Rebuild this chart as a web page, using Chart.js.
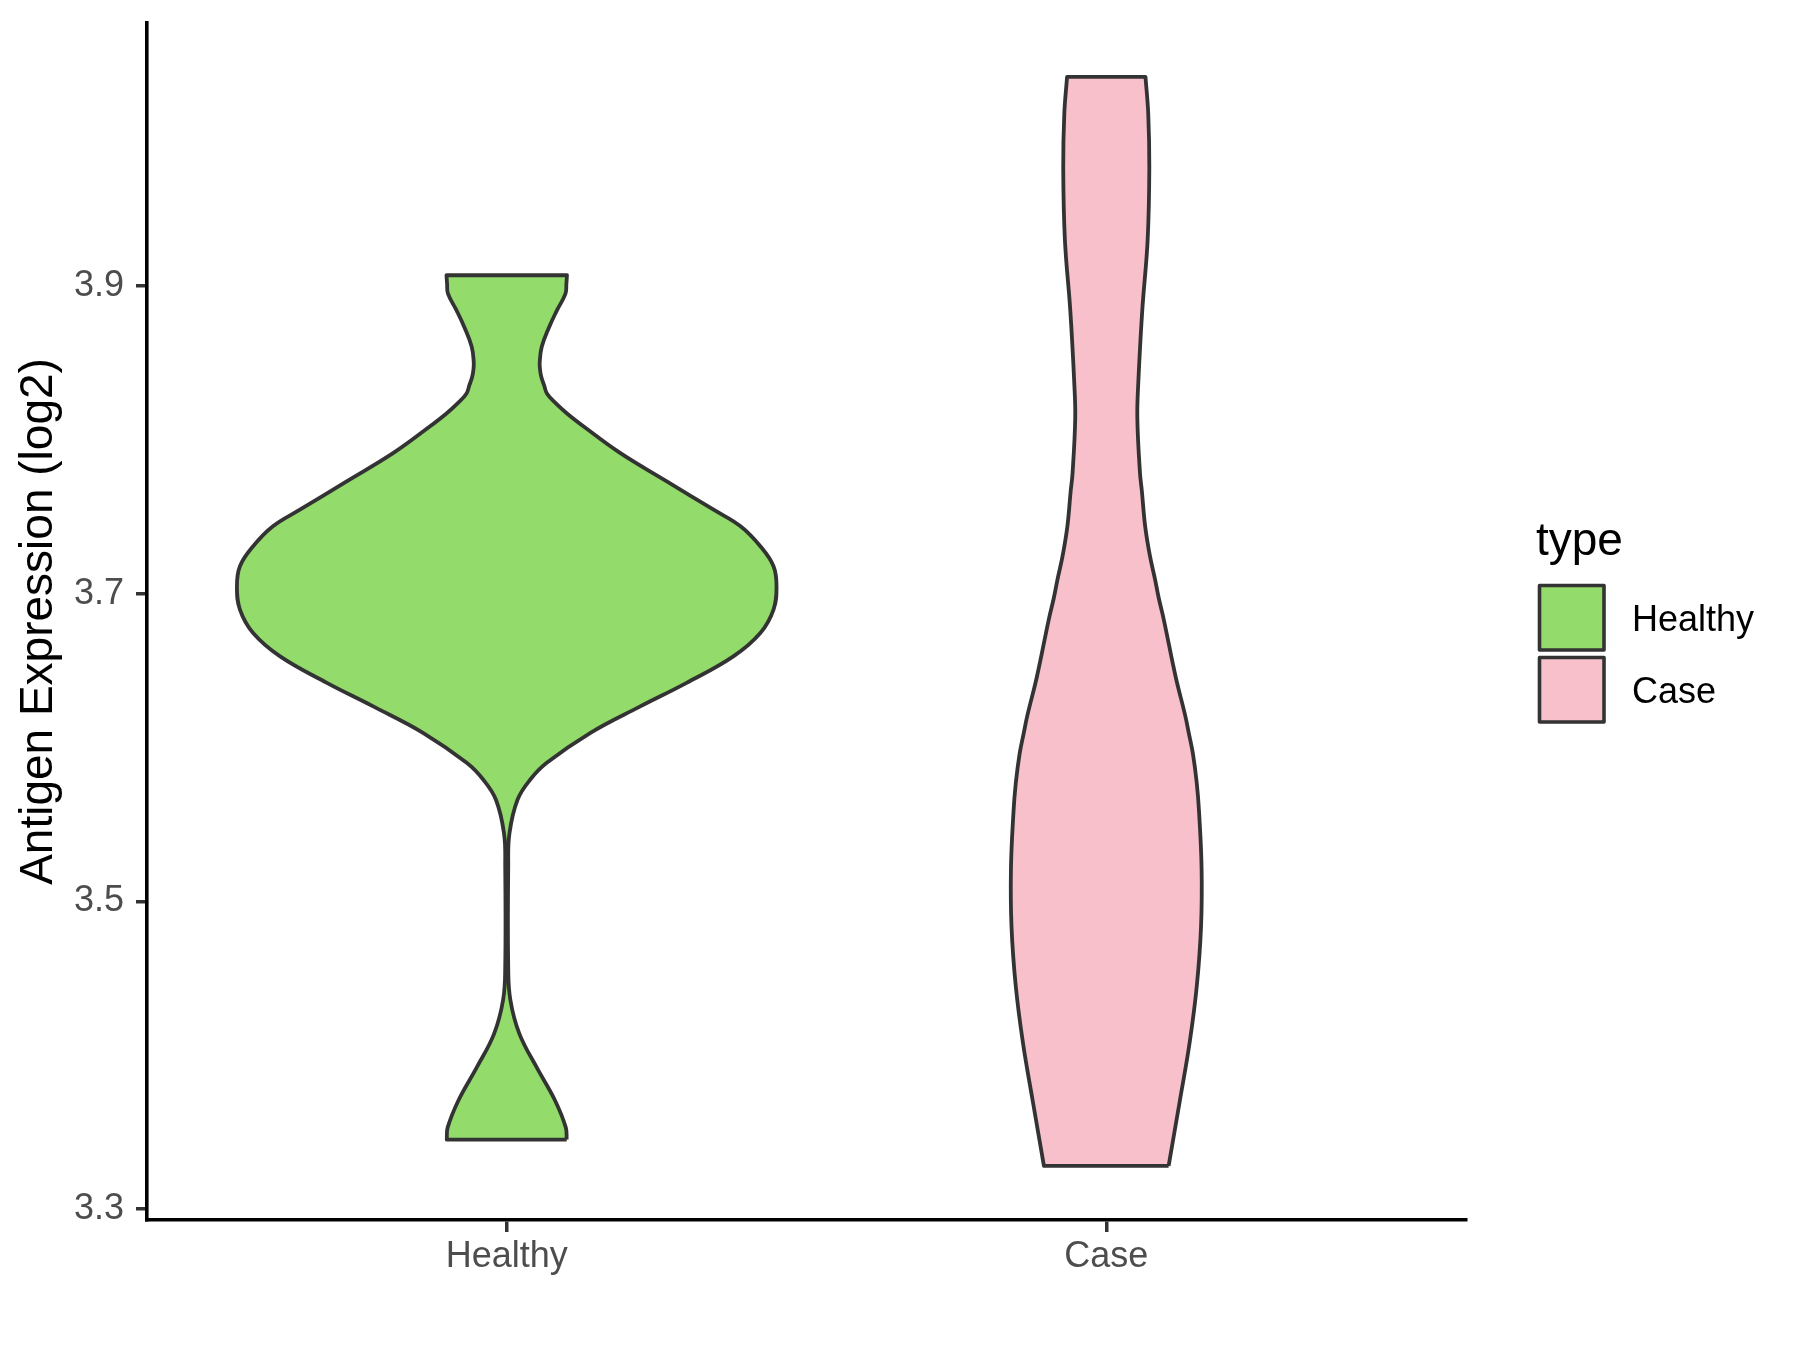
<!DOCTYPE html>
<html>
<head>
<meta charset="utf-8">
<script src="https://cdn.jsdelivr.net/npm/chart.js@4"></script>
<style>
  html, body { margin: 0; padding: 0; background: #fff; }
</style>
</head>
<body>
<canvas id="violin" width="1800" height="1350"></canvas>
<script>
// categories and colours
const categories = ['Healthy', 'Case'];
const fillColors = ['#93DB6B', '#F7C0CB'];
const legendTitle = 'type';

// y ticks and axis range (log2 expression)
const yTicks = [3.3, 3.5, 3.7, 3.9];
const yRange = [3.2928, 4.071];

// violin outlines: value, half width (x units)
const healthyY = [3.345, 3.353, 3.371, 3.392, 3.414, 3.436, 3.457, 3.522, 3.544, 3.566, 3.579, 3.590, 3.6094, 3.6267, 3.642, 3.6592, 3.6744, 3.6896, 3.7047, 3.7178, 3.7308, 3.7438, 3.7546, 3.773, 3.7915, 3.8085, 3.817, 3.8237, 3.830, 3.8355, 3.841, 3.8455, 3.8503, 3.8605, 3.8735, 3.884, 3.895, 3.9015, 3.907];
const healthyW = [0.100, 0.0985, 0.080, 0.050, 0.021, 0.006, 0.0025, 0.0025, 0.0045, 0.018, 0.039, 0.0668, 0.139, 0.2227, 0.300, 0.378, 0.423, 0.445, 0.450, 0.445, 0.423, 0.390, 0.345, 0.267, 0.189, 0.129, 0.101, 0.082, 0.0673, 0.0623, 0.0576, 0.0556, 0.055, 0.0584, 0.071, 0.0835, 0.098, 0.0995, 0.1005];

const caseY = [3.328, 3.371, 3.408, 3.445, 3.483, 3.521, 3.5585, 3.5773, 3.596, 3.6087, 3.621, 3.646, 3.683, 3.697, 3.709, 3.725, 3.744, 3.767, 3.778, 3.814, 3.837, 3.884, 3.930, 3.977, 4.012, 4.036];
const caseW = [0.104, 0.123, 0.139, 0.151, 0.158, 0.159, 0.1547, 0.1508, 0.1445, 0.138, 0.1315, 0.1157, 0.096, 0.0876, 0.0815, 0.0726, 0.0648, 0.0593, 0.0563, 0.0518, 0.0534, 0.060, 0.069, 0.0718, 0.070, 0.0654];

const family = "'Liberation Sans', Arial, sans-serif";

// closed outline: up the right side, across the top, down the left side.
// each corner point is given twice so the spline keeps it sharp
function outline(center, ys, ws) {
    const right = ys.map((y, i) => ({ x: center + ws[i], y: y }));
    const left = ys.map((y, i) => ({ x: center - ws[i], y: y })).reverse();
    const n = right.length - 1;
    return [right[0], ...right, right[n], left[0], ...left, left[n], right[0], right[0]];
}

const violins = [[healthyY, healthyW], [caseY, caseW]];

const datasets = categories.map((name, i) => ({
    label: name,
    data: outline(i + 1, violins[i][0], violins[i][1]),
    showLine: true,
    fill: 'shape',
    backgroundColor: fillColors[i],
    borderColor: '#333333',
    borderWidth: 3.8,
    borderJoinStyle: 'round',
    pointRadius: 0,
    tension: 0.4
}));

// ggplot style legend on the right
const typeLegend = {
    id: 'typeLegend',
    afterDraw(chart) {
        const { ctx, chartArea } = chart;
        const x0 = chartArea.right + 72;
        const midY = (chartArea.top + chartArea.bottom) / 2;
        ctx.save();
        ctx.textAlign = 'left';
        ctx.textBaseline = 'alphabetic';
        ctx.fillStyle = '#000000';
        ctx.font = '46px ' + family;
        ctx.fillText(legendTitle, x0 - 2, midY - 67);
        chart.data.datasets.forEach((ds, i) => {
            const top = midY - 36 + i * 72;
            ctx.fillStyle = ds.backgroundColor;
            ctx.fillRect(x0 + 1.5, top, 64.5, 64.5);
            ctx.lineWidth = 3.6;
            ctx.strokeStyle = '#333333';
            ctx.lineJoin = 'round';
            ctx.strokeRect(x0 + 1.5, top, 64.5, 64.5);
            ctx.fillStyle = '#000000';
            ctx.font = '36px ' + family;
            ctx.fillText(ds.label, x0 + 94, top + 45);
        });
        ctx.restore();
    }
};

// drop the label overhang padding chart.js adds, the layout is fixed here
function noOverhang(s) {
    s.paddingTop = 0;
    s.paddingBottom = 0;
    s.paddingLeft = 0;
    s.paddingRight = 0;
}

new Chart(document.getElementById('violin'), {
    type: 'scatter',
    data: { datasets: datasets },
    options: {
        responsive: false,
        devicePixelRatio: 1,
        animation: false,
        events: [],
        layout: { padding: { top: 23, right: 334, left: 0, bottom: 0 } },
        plugins: {
            legend: { display: false },
            tooltip: { enabled: false }
        },
        scales: {
            x: {
                type: 'linear',
                min: 0.4,
                max: 2.6,
                afterBuildTicks: s => { s.ticks = categories.map((c, i) => ({ value: i + 1 })); },
                afterFit: s => { s.height = 130; noOverhang(s); },
                ticks: {
                    color: '#4D4D4D',
                    font: { size: 36, family: family },
                    padding: 3,
                    maxRotation: 0,
                    autoSkip: false,
                    callback: v => categories[Math.round(v) - 1]
                },
                grid: { drawOnChartArea: false, drawTicks: true, tickLength: 12, color: '#333333', lineWidth: 3.5 },
                border: { display: true, color: '#000000', width: 3.6 }
            },
            y: {
                type: 'linear',
                min: yRange[0],
                max: yRange[1],
                afterBuildTicks: s => { s.ticks = yTicks.map(v => ({ value: v })); },
                afterFit: s => { s.width = 147; noOverhang(s); },
                ticks: {
                    color: '#4D4D4D',
                    font: { size: 36, family: family },
                    padding: 12,
                    callback: v => v.toFixed(1)
                },
                grid: { drawOnChartArea: false, drawTicks: true, tickLength: 11, color: '#333333', lineWidth: 3.5 },
                border: { display: true, color: '#000000', width: 3.6 },
                title: {
                    display: true,
                    text: 'Antigen Expression (log2)',
                    color: '#000000',
                    font: { size: 46, family: family },
                    padding: { top: 12, bottom: 0 }
                }
            }
        }
    },
    plugins: [typeLegend]
});
</script>
</body>
</html>
